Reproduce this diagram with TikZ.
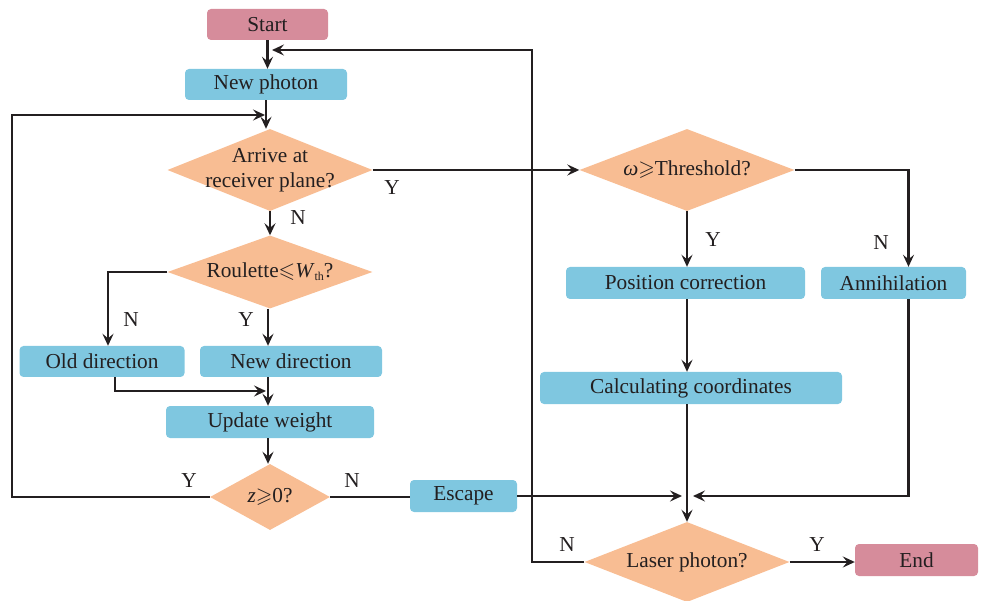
\documentclass[tikz,border=0pt]{standalone}
\usepackage{amssymb}
\usepackage{fontspec}
\setmainfont{Liberation Serif}
\usetikzlibrary{shapes.geometric,arrows.meta}
\definecolor{pinkc}{HTML}{D68C9B}
\definecolor{bluec}{HTML}{7FC7E0}
\definecolor{orangec}{HTML}{F8BD93}
\definecolor{linec}{HTML}{231F20}
\begin{document}
\begin{tikzpicture}[x=1pt,y=-1pt,
  txt/.style={font=\fontsize{21.3}{25}\selectfont, text=linec},
  box/.style={txt, rectangle, rounded corners=4pt, fill=bluec, minimum height=31pt, inner sep=0pt},
  term/.style={box, fill=pinkc},
  dia/.style={diamond, fill=orangec, inner sep=0pt},
  lbl/.style={txt, inner sep=0pt},
  conn/.style={draw=linec, line width=2.3pt},
  arr/.style={conn, -{Stealth[length=12pt,width=11pt,inset=4.5pt]}}]
\useasboundingbox (0,0) rectangle (985,601);
% boxes
\node[term, minimum width=121pt] (start) at (267.5,24.5) {Start};
\node[box, minimum width=162pt] (newp) at (266,84.5) {New photon};
\node[box, minimum width=165pt] (old) at (102,361.5) {Old direction};
\node[box, minimum width=182pt] (newd) at (291,361.5) {New direction};
\node[box, minimum width=208pt, minimum height=32pt] (upd) at (270,422) {Update weight};
\node[box, minimum width=107pt, minimum height=32pt] (esc) at (463.5,496) {Escape};
\node[box, minimum width=239pt, minimum height=32pt] (pos) at (685.5,283) {Position correction};
\node[box, minimum width=145pt, minimum height=32pt] (ann) at (893.5,283) {Annihilation};
\node[box, minimum width=302pt, minimum height=32pt] (calc) at (691,388) {Calculating coordinates};
\node[term, minimum width=123pt, minimum height=32pt] (end) at (916.5,560) {End};
% diamonds
\node[dia, minimum width=205pt, minimum height=82pt] (arrv) at (270,170) {};
\node[lbl, align=center] (arrvT) at (arrv) {Arrive at\\receiver plane?};
\node[dia, minimum width=205pt, minimum height=73pt] (rou) at (270,272) {};
\node[lbl] (rouT) at (rou) {Roulette$\leqslant$\textit{W}\raisebox{-3pt}{\fontsize{12}{12}\selectfont th}?};
\node[dia, minimum width=120pt, minimum height=66pt] (zz) at (270,497) {};
\node[lbl] (zzT) at (zz) {\textit{z}$\geqslant$0?};
\node[dia, minimum width=215pt, minimum height=82pt] (thr) at (687,170) {};
\node[lbl] (thrT) at (thr) {\textit{ω}$\geqslant$Threshold?};
\node[dia, minimum width=205pt, minimum height=80pt] (las) at (687,562) {};
\node[lbl] (lasT) at (las) {Laser photon?};
% junction coordinates
\coordinate (j1) at (266,391);
\coordinate (j2) at (265,115);
\coordinate (j3) at (682,496);
\coordinate (j4) at (693,496);
\coordinate (j5) at (272,50);
% connectors
\draw[arr] (start) -- (start |- newp.north);
\draw[arr] (newp) -- (newp |- arrv.north);
\draw[arr] (arrv.east) -- (arrv.east -| thr.west);
\draw[arr] (arrv.south) -- (rou.north);
\draw[arr] (rou.west) -| ([xshift=6pt]old.north);
\draw[arr] ([xshift=-2pt]rou.south) -- ([xshift=-2pt]rou.south |- newd.north);
\draw[arr] ([xshift=13pt]old.south) |- (j1);
\draw[arr] ([xshift=-2pt]rou.south |- newd.south) -- ([xshift=-2pt]rou.south |- upd.north);
\draw[arr] ([xshift=-2pt]upd.south) -- ([xshift=-2pt]zz.north);
\draw[arr] (zz.west) -- (12,497) |- (j2);
\draw[conn] (zz.east) -- (zz.east -| esc.west);
\draw[arr] (esc.east) -- (j3);
\draw[arr] (thr.east) -| ([xshift=15pt]ann.north);
\draw[arr] (thr.south) -- (thr.south |- pos.north);
\draw[arr] (thr.south |- pos.south) -- (thr.south |- calc.north);
\draw[arr] (thr.south |- calc.south) -- (las.north);
\draw[arr] ([xshift=15pt]ann.south) |- (j4);
\draw[arr] (las.east) -- (end.west |- las.east);
\draw[arr] (las.west) -- (532,562) |- (j5);
% labels
\node[lbl] (y1) at (392,188) {Y};
\node[lbl] (n1) at (298,218) {N};
\node[lbl] (n2) at (131,320) {N};
\node[lbl] (y2) at (246,320) {Y};
\node[lbl] (y3) at (189,481) {Y};
\node[lbl] (n3) at (352,481) {N};
\node[lbl] (y4) at (713,240) {Y};
\node[lbl] (n4) at (881,243) {N};
\node[lbl] (n5) at (567,545) {N};
\node[lbl] (y5) at (817,545) {Y};
\end{tikzpicture}
\end{document}
